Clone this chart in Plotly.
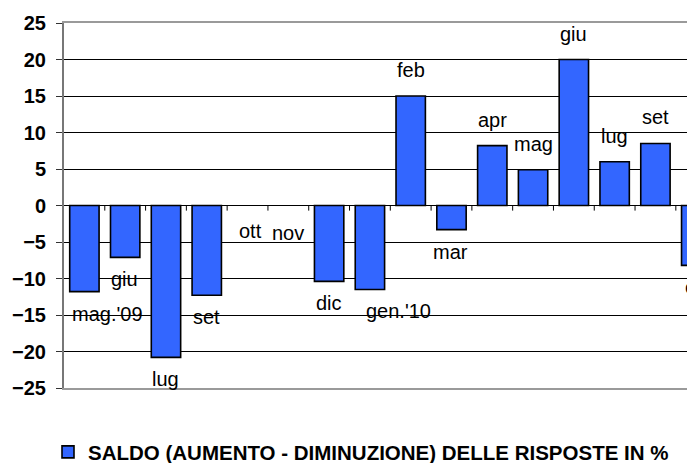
import plotly.graph_objects as go

categories = ["mag.'09", "giu", "lug", "set", "ott", "nov", "dic", "gen.'10",
              "feb", "mar", "apr", "mag", "giu", "lug", "set", "ott"]
values = [-11.8, -7.1, -20.8, -12.3, 0, 0, -10.4, -11.5,
          15.0, -3.3, 8.2, 4.9, 20.0, 6.0, 8.5, -8.2]
y_ticks = [-25, -20, -15, -10, -5, 0, 5, 10, 15, 20, 25]
series_name = "SALDO (AUMENTO - DIMINUZIONE) DELLE RISPOSTE IN %"

# label styling offsets (pixels)
label_xshift = [23, -1, 0, 0, 3, 0, 0, 29, 0, -1, 0, 0, 0, 0, 0, 0]
label_yshift_pos = 26
label_yshift_neg = -22
label_yshift_zero = [-25, -27]

x_idx = list(range(len(categories)))
x_range = [-0.5, 14.97]
FONT = "Liberation Sans, Arial, sans-serif"

# page body has an 8px margin, so the figure is 8px smaller each way
W, H = 687, 455

fig = go.Figure()
fig.add_trace(go.Bar(
    x=x_idx, y=values, name=series_name,
    marker=dict(color="#3366FF",
                line=dict(color="black", width=[0 if v == 0 else 1.6 for v in values])),
    hoverinfo="skip",
))

# small tick marks on the zero line at category boundaries
tx, ty = [], []
for i in x_idx[1:]:
    tx += [i - 0.5, i - 0.5, None]
    ty += [0, -0.7, None]
fig.add_trace(go.Scatter(x=tx, y=ty, mode="lines", line=dict(color="black", width=1),
                         showlegend=False, hoverinfo="skip"))

zi = 0
for i, (c, v) in enumerate(zip(categories, values)):
    if v > 0:
        ys = label_yshift_pos
    elif v < 0:
        ys = label_yshift_neg
    else:
        ys = label_yshift_zero[zi]
        zi += 1
    px = (i - x_range[0]) / (x_range[1] - x_range[0])
    fig.add_annotation(x=px, xref="paper", y=v, yref="y", text=c, showarrow=False,
                       xshift=label_xshift[i], yshift=ys,
                       font=dict(family=FONT, size=20, color="black"),
                       xanchor="center", yanchor="middle")

fig.update_layout(
    width=W, height=H,
    margin=dict(l=56, r=0, t=15, b=75, autoexpand=False),
    paper_bgcolor="white", plot_bgcolor="white",
    bargap=0.28,
    showlegend=True,
    legend=dict(orientation="h", xref="container", yref="container",
                x=40 / W, y=11 / H, xanchor="left", yanchor="middle",
                font=dict(family=FONT, size=20.5, color="black", weight="bold"),
                itemwidth=30),
    xaxis=dict(range=x_range, showticklabels=False, showgrid=False, zeroline=False,
               showline=True, mirror=True, linecolor="#9a9a9a", linewidth=2, ticks=""),
    yaxis=dict(range=[-25, 25], tickvals=y_ticks, showgrid=True, gridcolor="black",
               gridwidth=1, zeroline=True, zerolinecolor="black", zerolinewidth=1,
               showline=True, linecolor="#777777", linewidth=2,
               ticks="outside", ticklen=6, tickcolor="#333333", tickwidth=1,
               ticklabelstandoff=6,
               tickfont=dict(family=FONT, size=20, color="black", weight="bold")),
)

fig.write_html("out.html")
